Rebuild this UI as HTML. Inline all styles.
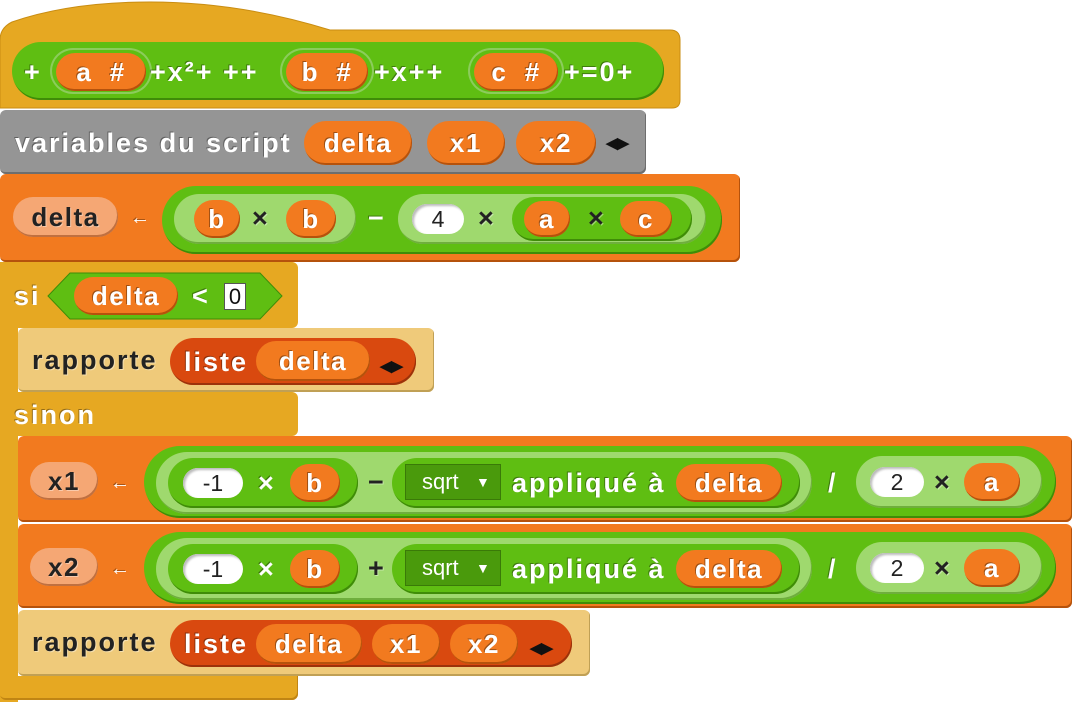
<!DOCTYPE html>
<html><head><meta charset="utf-8"><style>
body{margin:0;width:1072px;height:706px;background:#fff;position:relative;overflow:hidden;font-family:"Liberation Sans",sans-serif}
div{position:absolute;box-sizing:border-box}
.p{border-radius:999px;display:flex;align-items:center;justify-content:center;font-weight:bold;font-size:26px;letter-spacing:1.5px;color:#fff;text-shadow:-1px -1px 0 rgba(0,0,0,.35)}
.t{font-weight:bold;font-size:27px;letter-spacing:2px;color:#fff;text-shadow:-1px -1px 0 rgba(0,0,0,.35);white-space:nowrap;line-height:30px}
.d{color:#222;text-shadow:1px 1px 0 rgba(255,255,255,.4)}
.g{background:#5fbe12;box-shadow:inset -1px -2px 0 #3f8c08}
.lg{background:#9fd96e;box-shadow:inset -1px -2px 0 #6fae3d}
.o{background:#f27a1f;box-shadow:inset -1px -2px 0 #b5520c}
.lo{background:#f5a774;box-shadow:inset -1px -2px 0 #c07040}
.w{background:#fff;color:#222;text-shadow:none;font-weight:normal;font-size:23px;letter-spacing:0;box-shadow:inset 2px 2px 2px #bbb}
.r{background:#d9490f;box-shadow:inset -1px -2px 0 #9c320a}
.ar{font-size:15px;letter-spacing:0;color:#111;text-shadow:none}
</style></head><body>
<!-- hat -->
<svg style="position:absolute;left:0;top:0" width="682" height="110"><path d="M0 40 Q0 28 12 22 Q70 2 150 2 Q240 2 330 30 L670 30 Q680 30 680 40 L680 100 Q680 108 672 108 L0 108 Z" fill="#e6a822" stroke="#c98d12"/></svg>
<div class="g p" style="left:12px;top:42px;width:652px;height:58px;border-radius:29px"></div>
<div class="t" style="left:24px;top:57px">+</div>
<div class="g p" style="left:50px;top:48px;width:102px;height:46px;box-shadow:inset 0 0 0 2px #8ccc5c"></div>
<div class="o p" style="left:56px;top:53px;width:90px;height:38px">a&nbsp;&nbsp;#</div>
<div class="t" style="left:150px;top:57px">+x²+ ++</div>
<div class="g p" style="left:280px;top:48px;width:94px;height:46px;box-shadow:inset 0 0 0 2px #8ccc5c"></div>
<div class="o p" style="left:286px;top:53px;width:82px;height:38px">b&nbsp;&nbsp;#</div>
<div class="t" style="left:374px;top:57px">+x++</div>
<div class="g p" style="left:468px;top:48px;width:96px;height:46px;box-shadow:inset 0 0 0 2px #8ccc5c"></div>
<div class="o p" style="left:474px;top:53px;width:84px;height:38px">c&nbsp;&nbsp;#</div>
<div class="t" style="left:564px;top:57px">+=0+</div>
<!-- grey -->
<div style="left:0;top:110px;width:646px;height:64px;background:#959595;border-radius:6px;box-shadow:inset -1px -2px 0 #6e6e6e"></div>
<div class="t" style="left:15px;top:128px">variables du script</div>
<div class="o p" style="left:304px;top:121px;width:108px;height:44px">delta</div>
<div class="o p" style="left:427px;top:121px;width:78px;height:44px">x1</div>
<div class="o p" style="left:516px;top:121px;width:80px;height:44px">x2</div>
<div class="t ar" style="left:606px;top:129px">◀▶</div>
<!-- set delta -->
<div style="left:0;top:174px;width:740px;height:88px;background:#f27a1f;border-radius:6px;box-shadow:inset -1px -2px 0 #b5520c"></div>
<div class="lo p d" style="left:13px;top:197px;width:105px;height:40px">delta</div>
<div class="t" style="left:130px;top:203px;font-size:20px">←</div>
<div class="g" style="left:162px;top:186px;width:560px;height:68px;border-radius:34px"></div>
<div class="lg" style="left:174px;top:194px;width:182px;height:50px;border-radius:25px"></div>
<div class="o p" style="left:194px;top:200px;width:46px;height:38px">b</div>
<div class="t d" style="left:252px;top:203px">×</div>
<div class="o p" style="left:286px;top:200px;width:50px;height:38px">b</div>
<div class="t" style="left:368px;top:203px">−</div>
<div class="lg" style="left:398px;top:194px;width:308px;height:50px;border-radius:25px"></div>
<div class="w p" style="left:412px;top:204px;width:52px;height:30px">4</div>
<div class="t d" style="left:478px;top:203px">×</div>
<div class="g" style="left:512px;top:197px;width:180px;height:44px;border-radius:22px"></div>
<div class="o p" style="left:524px;top:201px;width:46px;height:36px">a</div>
<div class="t d" style="left:588px;top:203px">×</div>
<div class="o p" style="left:620px;top:201px;width:52px;height:36px">c</div>
<!-- if/else -->
<div style="left:0;top:262px;width:298px;height:66px;background:#e6a822;border-radius:6px"></div>
<div style="left:0;top:262px;width:18px;height:440px;background:#e6a822"></div>
<div style="left:0;top:392px;width:298px;height:44px;background:#e6a822;border-radius:6px"></div>
<div style="left:0;top:676px;width:298px;height:24px;background:#e6a822;border-radius:0 0 6px 6px;box-shadow:inset -1px -2px 0 #c08514"></div>
<div class="t" style="left:14px;top:281px">si</div>
<svg style="position:absolute;left:46px;top:272px" width="238" height="48"><polygon points="2,24 24,1 214,1 236,24 214,47 24,47" fill="#5fbe12" stroke="#3f8c08"/></svg>
<div class="o p" style="left:74px;top:277px;width:104px;height:38px">delta</div>
<div class="t" style="left:192px;top:281px">&lt;</div>
<div style="left:224px;top:283px;width:22px;height:27px;background:#fff;border:1px solid #555;font-size:22px;line-height:25px;text-align:center;color:#111">0</div>
<div style="left:18px;top:328px;width:416px;height:64px;background:#efca7a;border-radius:6px;box-shadow:inset -1px -2px 0 #c0a055"></div>
<div class="t d" style="left:32px;top:345px">rapporte</div>
<div class="r p" style="left:170px;top:338px;width:246px;height:47px"></div>
<div class="t" style="left:184px;top:347px">liste</div>
<div class="o p" style="left:256px;top:341px;width:114px;height:40px">delta</div>
<div class="t ar" style="left:380px;top:352px">◀▶</div>
<div class="t" style="left:14px;top:400px">sinon</div>
<!-- x1 / x2 -->
<div style="left:18px;top:436px;width:1054px;height:86px;background:#f27a1f;border-radius:6px;box-shadow:inset -1px -2px 0 #b5520c"></div>
<div style="left:18px;top:524px;width:1054px;height:84px;background:#f27a1f;border-radius:6px;box-shadow:inset -1px -2px 0 #b5520c"></div>
<div class="lo p d" style="left:30px;top:462px;width:68px;height:38px">x1</div>
<div class="lo p d" style="left:30px;top:548px;width:68px;height:38px">x2</div>
<div class="t" style="left:110px;top:468px;font-size:20px">←</div>
<div class="t" style="left:110px;top:554px;font-size:20px">←</div>
<div class="g" style="left:144px;top:446px;width:912px;height:72px;border-radius:36px"></div>
<div class="g" style="left:144px;top:532px;width:912px;height:72px;border-radius:36px"></div>
<div class="lg" style="left:156px;top:452px;width:656px;height:62px;border-radius:31px"></div>
<div class="lg" style="left:156px;top:538px;width:656px;height:62px;border-radius:31px"></div>
<div class="g" style="left:168px;top:458px;width:190px;height:50px;border-radius:25px"></div>
<div class="g" style="left:168px;top:544px;width:190px;height:50px;border-radius:25px"></div>
<div class="w p" style="left:183px;top:468px;width:60px;height:30px">-1</div>
<div class="w p" style="left:183px;top:554px;width:60px;height:30px">-1</div>
<div class="t" style="left:258px;top:468px">×</div>
<div class="t" style="left:258px;top:554px">×</div>
<div class="o p" style="left:290px;top:464px;width:50px;height:38px">b</div>
<div class="o p" style="left:290px;top:550px;width:50px;height:38px">b</div>
<div class="t d" style="left:368px;top:467px">−</div>
<div class="t d" style="left:368px;top:553px">+</div>
<div class="g" style="left:392px;top:458px;width:408px;height:50px;border-radius:25px"></div>
<div class="g" style="left:392px;top:544px;width:408px;height:50px;border-radius:25px"></div>
<div style="left:405px;top:464px;width:96px;height:36px;background:#4a9a0c;border:1px solid #3a7a08;color:#fff;font-size:22px;line-height:34px;padding-left:16px">sqrt<span style="font-size:14px;position:absolute;left:70px;top:0">▼</span></div>
<div style="left:405px;top:550px;width:96px;height:36px;background:#4a9a0c;border:1px solid #3a7a08;color:#fff;font-size:22px;line-height:34px;padding-left:16px">sqrt<span style="font-size:14px;position:absolute;left:70px;top:0">▼</span></div>
<div class="t" style="left:512px;top:468px">appliqué à</div>
<div class="t" style="left:512px;top:554px">appliqué à</div>
<div class="o p" style="left:676px;top:464px;width:106px;height:38px">delta</div>
<div class="o p" style="left:676px;top:550px;width:106px;height:38px">delta</div>
<div class="t" style="left:828px;top:468px">/</div>
<div class="t" style="left:828px;top:554px">/</div>
<div class="lg" style="left:856px;top:456px;width:186px;height:52px;border-radius:26px"></div>
<div class="lg" style="left:856px;top:542px;width:186px;height:52px;border-radius:26px"></div>
<div class="w p" style="left:870px;top:467px;width:54px;height:30px">2</div>
<div class="w p" style="left:870px;top:553px;width:54px;height:30px">2</div>
<div class="t d" style="left:934px;top:467px">×</div>
<div class="t d" style="left:934px;top:553px">×</div>
<div class="o p" style="left:964px;top:463px;width:56px;height:38px">a</div>
<div class="o p" style="left:964px;top:549px;width:56px;height:38px">a</div>
<!-- rapporte 2 -->
<div style="left:18px;top:610px;width:572px;height:66px;background:#efca7a;border-radius:6px;box-shadow:inset -1px -2px 0 #c0a055"></div>
<div class="t d" style="left:32px;top:627px">rapporte</div>
<div class="r p" style="left:170px;top:620px;width:402px;height:47px"></div>
<div class="t" style="left:184px;top:629px">liste</div>
<div class="o p" style="left:256px;top:624px;width:106px;height:40px">delta</div>
<div class="o p" style="left:372px;top:624px;width:68px;height:40px">x1</div>
<div class="o p" style="left:450px;top:624px;width:68px;height:40px">x2</div>
<div class="t ar" style="left:530px;top:634px">◀▶</div>
</body></html>
